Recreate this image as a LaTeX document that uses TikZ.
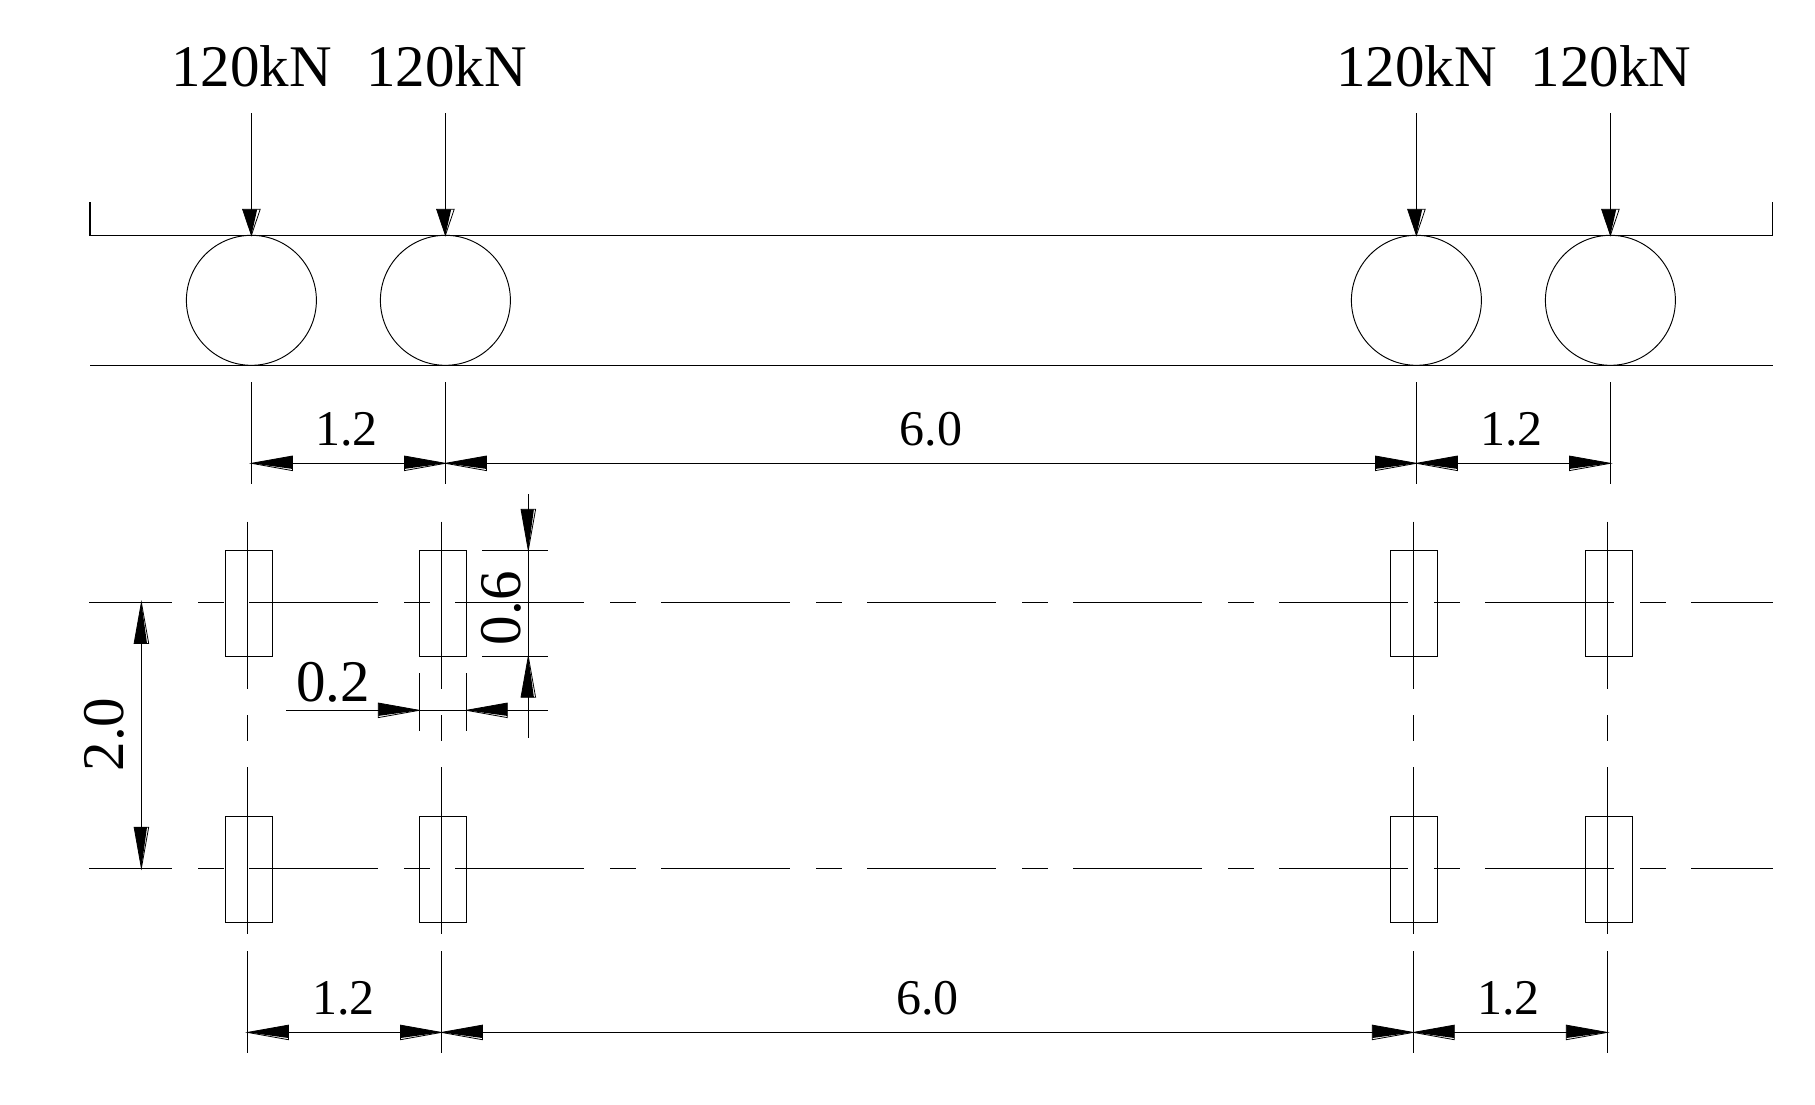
\documentclass[tikz,border=0pt]{standalone}
\usepackage{fontspec}
\setmainfont{Liberation Serif}
\newcommand{\bigsize}{\fontsize{59}{60}\selectfont}
\newcommand{\smallsize}{\fontsize{50}{52}\selectfont}
% arrow head: tip x, tip y, rotation, length, half width, sliver sign, sliver size
\newcommand{\dimhead}[7]{%
  \begin{scope}[shift={(#1,#2)},rotate=#3]
    \draw[headline] (0,0) -- (-#4,-#5) -- (-#4,#5) -- cycle;
    \fill[black] (0,0) -- (-#4,{-(#6)*#5}) -- (-#4,{(#6)*(#5-#7)}) -- cycle;
  \end{scope}}
\newcommand{\headE}[2]{\dimhead{#1}{#2}{0}{41}{7.3}{1}{1.7}}
\newcommand{\headW}[2]{\dimhead{#1}{#2}{180}{41}{7.3}{-1}{1.7}}
\newcommand{\headS}[2]{\dimhead{#1}{#2}{-90}{41}{7.3}{-1}{1.7}}
\newcommand{\headN}[2]{\dimhead{#1}{#2}{90}{41}{7.3}{1}{1.7}}
\newcommand{\headF}[2]{\dimhead{#1}{#2}{-90}{26}{8.8}{-1}{3.0}}
\tikzset{
  headline/.style={line width=0.8pt,black,line join=miter},
  ln/.style={line width=1.25pt,black},
  wheel/.style={circle,draw,line width=0.95pt,minimum size=130pt,inner sep=0pt,outer sep=0pt},
  pad/.style={rectangle,draw,line width=1.2pt,minimum width=47pt,minimum height=106pt,inner sep=0pt,outer sep=0pt},
  bigtext/.style={anchor=base,inner sep=0pt,font=\bigsize},
  smalltext/.style={anchor=base,inner sep=0pt,font=\smallsize},
  axisline/.style={ln,dash pattern=on 129pt off 26pt on 26pt off 25pt,dash phase=46pt}
}
\begin{document}
\begin{tikzpicture}[x=1pt,y=-1pt]
\useasboundingbox (0,0) rectangle (1815,1104);

% loads
\node[bigtext] (t1) at (251.5,86.7) {120kN};
\node[bigtext] (t2) at (446.5,86.7) {120kN};
\node[bigtext] (t3) at (1416.5,86.7) {120kN};
\node[bigtext] (t4) at (1611,86.7) {120kN};

% beam
\draw[ln] (90,202.3) -- (90,235.3) -- (1772.5,235.3) -- (1772.5,202.3);
\draw[ln] (90,365.3) -- (1772.5,365.3);

% wheels and load arrows
\foreach \n/\x in {1/251.4,2/445.4,3/1416.4,4/1610.4}{
  \node[wheel] (w\n) at (\x,300.3) {};
  \coordinate (f\n) at (\x,113.3);
  \draw[ln] (f\n) -- (w\n.north);
  \headF{\x}{235.3}
  \draw[ln] (\x,382.3) -- (\x,484.3);
}

% upper dimensions
\draw[ln] (251.4,463.3) -- (1610.4,463.3);
\headW{251.4}{463.3}\headE{445.4}{463.3}\headW{445.4}{463.3}
\headE{1416.4}{463.3}\headW{1416.4}{463.3}\headE{1610.4}{463.3}
\node[smalltext] (d1) at (346.5,445.5) {1.2};
\node[smalltext] (d2) at (931,445.5) {6.0};
\node[smalltext] (d3) at (1511.7,445.5) {1.2};

% axle centre lines
\draw[axisline] (89.3,602.4) -- (1772.7,602.4);
\draw[axisline] (89.3,868.2) -- (1772.7,868.2);

% pads
\foreach \n/\x in {1/249,2/442.9,3/1413.8,4/1608.8}{
  \node[pad] (pa\n) at (\x,603.4) {};
  \node[pad] (pb\n) at (\x,869.3) {};
}

% wheel centre lines
\foreach \x in {247.5,441.4,1413.3,1607.3}{
  \draw[ln] (\x,521.6) -- (\x,689.2);
  \draw[ln] (\x,715.3) -- (\x,741);
  \draw[ln] (\x,767) -- (\x,934.2);
  \draw[ln] (\x,951.2) -- (\x,1052.7);
}

% lower dimensions
\draw[ln] (247.5,1032.4) -- (1607.3,1032.4);
\headW{247.5}{1032.4}\headE{441.4}{1032.4}\headW{441.4}{1032.4}
\headE{1413.3}{1032.4}\headW{1413.3}{1032.4}\headE{1607.3}{1032.4}
\node[smalltext] (d4) at (343.5,1014.7) {1.2};
\node[smalltext] (d5) at (927.6,1014.7) {6.0};
\node[smalltext] (d6) at (1508.3,1014.7) {1.2};

% pad length 0.6
\draw[ln] (482.3,550.3) -- (548.3,550.3);
\draw[ln] (482.3,656.3) -- (548.3,656.3);
\draw[ln] (528.3,494.3) -- (528.3,738.3);
\headS{528.3}{550.3}\headN{528.3}{656.3}
\node[bigtext,rotate=90] (d7) at (520,608.3) {0.6};

% pad width 0.2
\draw[ln] (419.3,673) -- (419.3,731);
\draw[ln] (466.3,673) -- (466.3,731);
\draw[ln] (286.4,710.3) -- (547.5,710.3);
\headE{419.3}{710.3}\headW{466.3}{710.3}
\node[bigtext] (d8) at (333.3,701.4) {0.2};

% track 2.0
\draw[ln] (141.4,602.4) -- (141.4,868.2);
\headN{141.4}{602.4}\headS{141.4}{868.2}
\node[bigtext,rotate=90] (d9) at (123.6,734.4) {2.0};
\end{tikzpicture}
\end{document}
